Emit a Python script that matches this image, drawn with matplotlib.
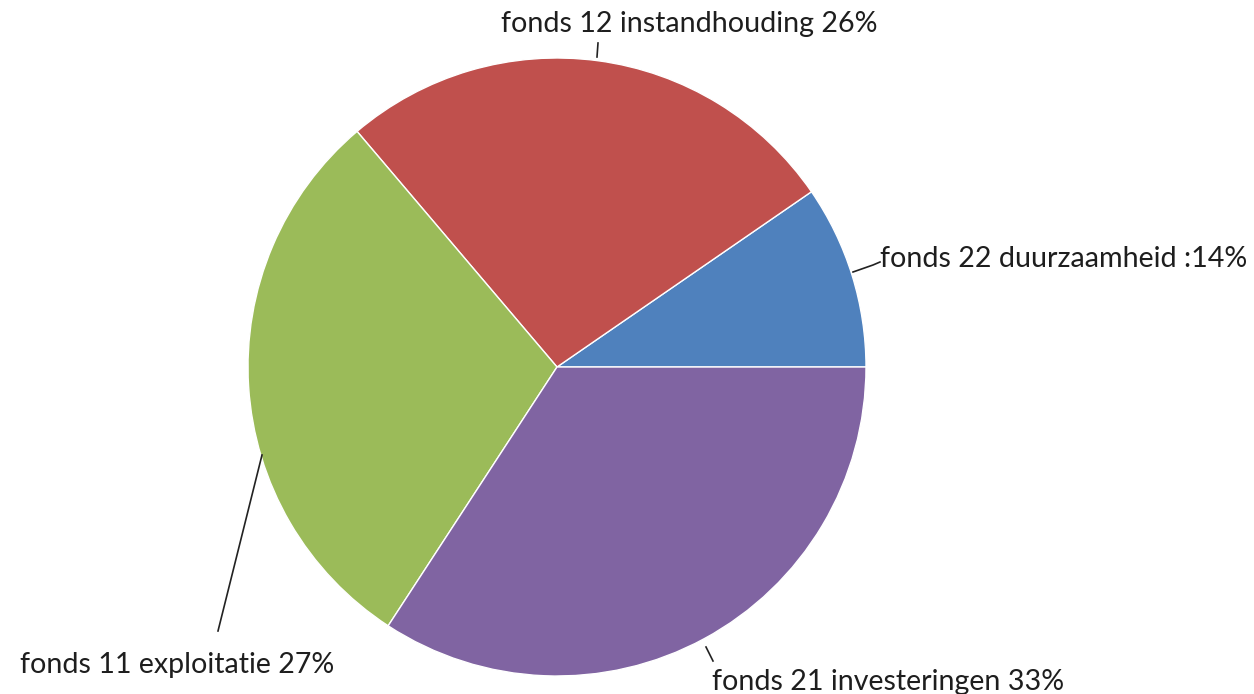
import matplotlib.pyplot as plt

# Slice sizes as measured from the wedge angles; label percentages as printed
funds = ["fonds 22 duurzaamheid", "fonds 12 instandhouding",
         "fonds 11 exploitatie", "fonds 21 investeringen"]
sizes = [9.6, 26.6, 29.6, 34.2]
label_pct = [14, 26, 27, 33]
colors = ["#4F81BD", "#C0504D", "#9BBB59", "#8064A2"]

W, H = 1254, 694
fig = plt.figure(figsize=(W / 100, H / 100), dpi=100)
ax = fig.add_axes([0, 0, 1, 1])

cx, cy, r = 557, H - 367, 309
ax.pie(sizes, colors=colors, startangle=0, counterclock=True,
       center=(cx, cy), radius=r, frame=True,
       wedgeprops=dict(edgecolor="white", linewidth=1))
ax.set_xlim(0, W)
ax.set_ylim(0, H)
ax.set_aspect("equal")
ax.axis("off")

# label placement (pixel coords from top-left), leader line points
labels = [f"{f} {p}%" for f, p in zip(funds, label_pct)]
labels[0] = f"{funds[0]} :{label_pct[0]}%"
text_pos = [(880, 259, "left"), (689, 24, "center"),
            (20, 665, "left"), (712, 682, "left")]
leaders = [[(853, 272), (873, 265), (880, 262)],
           [(597, 57), (598, 43)],
           [(262, 455), (218, 631)],
           [(706, 647), (713, 661)]]

for lab, (tx, ty, ha), pts in zip(labels, text_pos, leaders):
    ax.text(tx, H - ty, lab, ha=ha, va="center", fontsize=20.6,
            family="Lato", color="#1e1e1e")
    xs = [p[0] for p in pts]
    ys = [H - p[1] for p in pts]
    ax.plot(xs, ys, color="#222222", linewidth=1.2)

fig.savefig("out.png", dpi=100)
